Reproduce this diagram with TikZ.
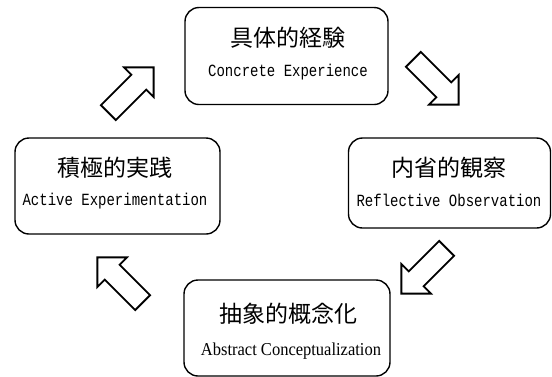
\documentclass[tikz,border=0pt]{standalone}
\usepackage{fontspec}
\usepackage{graphicx}
\newfontfamily\cjkfont{Noto Sans CJK JP}
\newfontfamily\enfont{Liberation Mono}
\newfontfamily\enserif{Liberation Serif}
\newcommand{\tallen}[1]{\scalebox{1}[1.22]{#1}}
\tikzset{
  stagebox/.style={draw=black, line width=1.4pt, rounded corners=14pt, fill=white},
  jptext/.style={font=\cjkfont\fontsize{23}{25}\selectfont, inner sep=0pt},
  entext/.style={font=\enfont\fontsize{14}{16}\selectfont, inner sep=0pt, anchor=base},
  blockarrow/.pic={
    \draw[line width=1.8pt, line join=miter, fill=white]
      (-32,-10.5) -- (11,-10.5) -- (11,-21) -- (32,0) -- (11,21) -- (11,10.5) -- (-32,10.5) -- cycle;
  }
}
\begin{document}
\begin{tikzpicture}[x=1pt, y=-1pt]
\useasboundingbox (0,0) rectangle (552,376);
% boxes
\node[stagebox, minimum width=203pt, minimum height=97pt] (ce) at (286.5,56) {};
\node[stagebox, minimum width=202pt, minimum height=90pt] (ro) at (449.5,183) {};
\node[stagebox, minimum width=205pt, minimum height=96pt] (ae) at (117.5,186) {};
\node[stagebox, minimum width=206pt, minimum height=96pt] (ac) at (287,328) {};
% texts
\node[jptext] (ceJ) at (288,38) {具体的経験};
\node[entext] (ceE) at (288,76) {\tallen{Concrete Experience}};
\node[jptext] (roJ) at (449,168) {内省的観察};
\node[entext] (roE) at (449,206) {\tallen{Reflective Observation}};
\node[jptext] (aeJ) at (115,168) {積極的実践};
\node[entext] (aeE) at (115,205) {\tallen{Active Experimentation}};
\node[jptext] (acJ) at (288,314) {抽象的概念化};
\node[entext, font=\enserif\fontsize{16.5}{18}\selectfont] (acE) at (291,355) {\scalebox{1}[1.1]{Abstract Conceptualization}};
% arrows
\coordinate (a1) at (131,90);
\coordinate (a2) at (436,82);
\coordinate (a3) at (424,271);
\coordinate (a4) at (120,280);
\path (a1) pic[rotate=45] {blockarrow};
\path (a2) pic[rotate=-45] {blockarrow};
\path (a3) pic[rotate=-135] {blockarrow};
\path (a4) pic[rotate=135] {blockarrow};
\end{tikzpicture}
\end{document}
